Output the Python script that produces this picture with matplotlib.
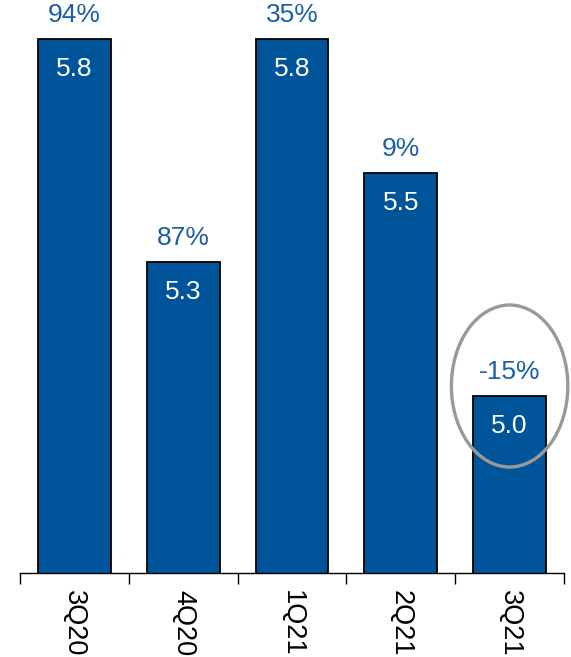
import matplotlib.pyplot as plt
from matplotlib.patches import Ellipse

# data
quarters = ["3Q20", "4Q20", "1Q21", "2Q21", "3Q21"]
values = [5.8, 5.3, 5.8, 5.5, 5.0]
growth = ["94%", "87%", "35%", "9%", "-15%"]

plt.rcParams["font.family"] = ["Liberation Sans", "DejaVu Sans"]

fig = plt.figure(figsize=(5.71, 6.57), dpi=100)
ax = fig.add_axes([20 / 571, 1 - 573 / 657, 544 / 571, 573 / 657])

x = range(len(quarters))
ax.bar(x, values, width=0.67, color="#00559A", edgecolor="black", linewidth=1.3, zorder=2)

for i, v in enumerate(values):
    ax.text(i, v - 0.067, f"{v:.1f}", ha="center", va="center", color="white", fontsize=19)
    ax.text(i, v + 0.054, growth[i], ha="center", va="center", color="#1C5DA6", fontsize=19)

# highlight on the last quarter
ax.add_patch(Ellipse((4.0, 5.022), 1.07, 0.363, fill=False, edgecolor="#999999",
                     linewidth=2.4, clip_on=False, zorder=3))

ax.set_xlim(-0.5, 4.5)
ax.set_ylim(4.603, 5.887)
ax.set_yticks([])
for s in ["left", "right", "top"]:
    ax.spines[s].set_visible(False)
ax.spines["bottom"].set_linewidth(1.0)

ax.set_xticks([i + 0.5 for i in range(-1, 5)], minor=False)
ax.set_xticklabels([])
ax.tick_params(axis="x", which="major", direction="out", length=8, width=1)
ax.set_xticks(list(x), minor=True)
ax.set_xticklabels(quarters, minor=True, rotation=-90, fontsize=19.5, va="top")
ax.tick_params(axis="x", which="minor", length=0, pad=12)

plt.savefig("out.png", dpi=100)
